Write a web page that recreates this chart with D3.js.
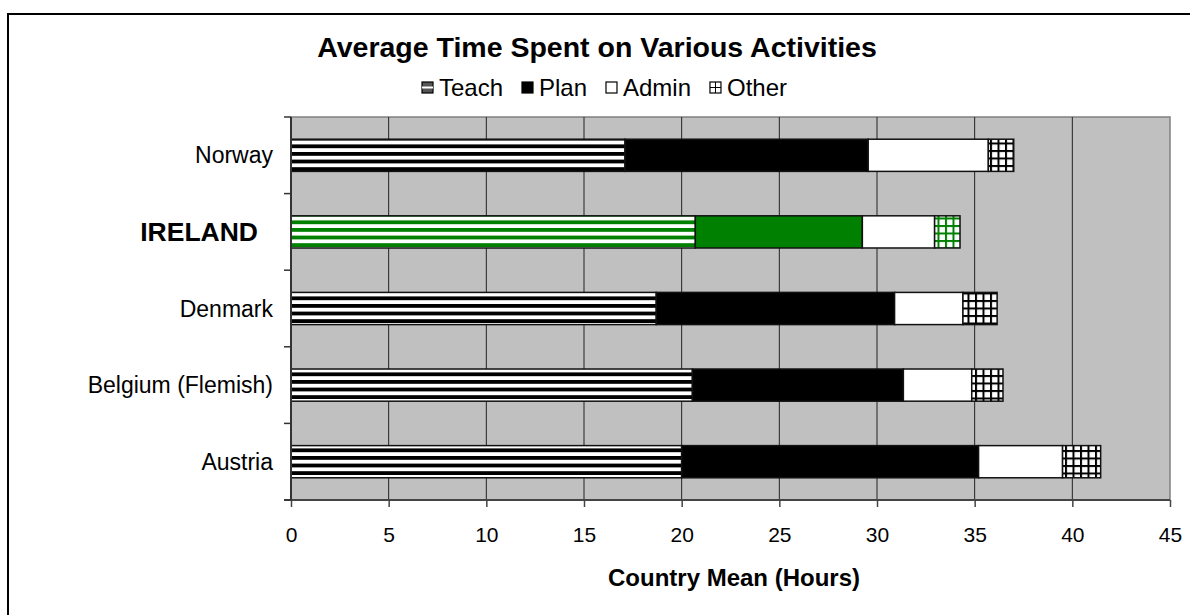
<!DOCTYPE html>
<html>
<head>
<meta charset="utf-8">
<script src="https://cdn.jsdelivr.net/npm/d3@7"></script>
<style>
  body { margin: 0; background: #fff; }
  text { font-family: Arial, "Liberation Sans", sans-serif; }
</style>
</head>
<body>
<div id="chart"></div>
<script>
// chart data
let countries = ['Norway', 'IRELAND', 'Denmark', 'Belgium (Flemish)', 'Austria'];
let activities = ['Teach', 'Plan', 'Admin', 'Other'];
let teach = [17.1, 20.7, 18.7, 20.55, 20.0];
let plan = [12.45, 8.55, 12.2, 10.8, 15.2];
let admin = [6.15, 3.7, 3.5, 3.5, 4.3];
let other = [1.3, 1.3, 1.75, 1.6, 1.95];
let xTicks = [0, 5, 10, 15, 20, 25, 30, 35, 40, 45];
let highlight = 'IRELAND';

// svg definitions
let svgWidth = 1190;
let svgHeight = 615;
let plot = { left: 291, top: 117, right: 1170, bottom: 500 };

let svg = d3.select('#chart').append('svg')
  .attr('width', svgWidth)
  .attr('height', svgHeight);

// table for the stack
let rows = countries.map((c, i) => ({
  country: c, Teach: teach[i], Plan: plan[i], Admin: admin[i], Other: other[i]
}));
let stacked = d3.stack().keys(activities)(rows);

let x = d3.scaleLinear().domain([0, 45]).range([plot.left, plot.right]);
let y = d3.scaleBand().domain(countries).range([plot.top, plot.bottom]).paddingInner(0.58).paddingOuter(0.29);

// hatch patterns, black and green versions
let defs = svg.append('defs');
function makePatterns(id, ink) {
  let stripes = defs.append('pattern')
    .attr('id', 'stripes-' + id)
    .attr('patternUnits', 'userSpaceOnUse')
    .attr('width', 8).attr('height', 7.6);
  stripes.append('rect').attr('width', 8).attr('height', 7.6).attr('fill', '#fff');
  stripes.append('rect').attr('y', 0).attr('width', 8).attr('height', 3.8).attr('fill', ink);

  let grid = defs.append('pattern')
    .attr('id', 'grid-' + id)
    .attr('patternUnits', 'userSpaceOnUse')
    .attr('width', 7.5).attr('height', 7.5);
  grid.append('rect').attr('width', 7.5).attr('height', 7.5).attr('fill', '#fff');
  grid.append('rect').attr('width', 7.5).attr('height', 2).attr('fill', ink);
  grid.append('rect').attr('width', 2).attr('height', 7.5).attr('fill', ink);
}
makePatterns('black', '#000');
makePatterns('green', '#008000');

function fillFor(key, country) {
  let id = country === highlight ? 'green' : 'black';
  let ink = country === highlight ? '#008000' : '#000';
  if (key === 'Teach') return `url(#stripes-${id})`;
  if (key === 'Plan') return ink;
  if (key === 'Admin') return '#fff';
  return `url(#grid-${id})`;
}

// outer frame
svg.append('rect')
  .attr('x', 8).attr('y', 14)
  .attr('width', svgWidth + 10).attr('height', svgHeight + 10)
  .attr('fill', '#fff')
  .attr('stroke', '#000')
  .attr('stroke-width', 2);

// plot background
svg.append('rect')
  .attr('x', plot.left).attr('y', plot.top)
  .attr('width', plot.right - plot.left).attr('height', plot.bottom - plot.top)
  .attr('fill', '#c0c0c0')
  .attr('stroke', '#808080')
  .attr('stroke-width', 1.5);

// gridlines
svg.append('g')
  .selectAll('line')
  .data(xTicks.slice(1, -1))
  .enter()
  .append('line')
  .attr('x1', d => x(d)).attr('x2', d => x(d))
  .attr('y1', plot.top).attr('y2', plot.bottom)
  .attr('stroke', '#222')
  .attr('stroke-width', 1);

// bars
let series = svg.append('g')
  .selectAll('g')
  .data(stacked)
  .enter()
  .append('g');

series.selectAll('rect')
  .data(s => s.map(d => ({ key: s.key, d: d })))
  .enter()
  .append('rect')
  .attr('x', e => x(e.d[0]))
  .attr('y', e => y(e.d.data.country))
  .attr('width', e => x(e.d[1]) - x(e.d[0]))
  .attr('height', y.bandwidth())
  .attr('fill', e => fillFor(e.key, e.d.data.country))
  .attr('stroke', '#111')
  .attr('stroke-width', 1.5);

// x axis
let xAxis = svg.append('g')
  .attr('transform', `translate(0, ${plot.bottom})`)
  .call(d3.axisBottom(x).tickValues(xTicks).tickSize(7).tickPadding(20));
xAxis.select('.domain').attr('stroke', '#444').attr('stroke-width', 2)
  .attr('d', `M${plot.left - 7},0H${plot.right}`);
xAxis.selectAll('.tick line').attr('stroke', '#444').attr('stroke-width', 1.5);
xAxis.selectAll('.tick text')
  .attr('font-size', '21px')
  .attr('font-family', 'Arial, "Liberation Sans", sans-serif')
  .attr('fill', '#000');

// y axis: ticks sit at band boundaries
let yBounds = d3.range(countries.length + 1).map(i => plot.top + i * (plot.bottom - plot.top) / countries.length);
let yAxis = svg.append('g');
yAxis.append('line')
  .attr('x1', plot.left).attr('x2', plot.left)
  .attr('y1', plot.top).attr('y2', plot.bottom)
  .attr('stroke', '#333').attr('stroke-width', 2);
yAxis.selectAll('.ytick')
  .data(yBounds)
  .enter()
  .append('line')
  .attr('x1', plot.left - 7).attr('x2', plot.left)
  .attr('y1', d => d).attr('y2', d => d)
  .attr('stroke', '#333').attr('stroke-width', 1.5);

yAxis.selectAll('.ylabel')
  .data(countries)
  .enter()
  .append('text')
  .attr('x', d => d === highlight ? 258 : 273)
  .attr('y', d => y(d) + y.bandwidth() / 2)
  .attr('dy', '0.35em')
  .attr('text-anchor', 'end')
  .attr('font-size', d => d === highlight ? '26.5px' : '23px')
  .attr('font-weight', d => d === highlight ? 'bold' : 'normal')
  .text(d => d);

// titles
svg.append('text')
  .attr('x', 597).attr('y', 57)
  .attr('text-anchor', 'middle')
  .attr('font-size', '28.5px')
  .attr('font-weight', 'bold')
  .text('Average Time Spent on Various Activities');

svg.append('text')
  .attr('x', 734).attr('y', 586)
  .attr('text-anchor', 'middle')
  .attr('font-size', '24px')
  .attr('font-weight', 'bold')
  .text('Country Mean (Hours)');

// legend, laid out in a row from 422 to 787
let legend = svg.append('g').attr('transform', 'translate(0, 82)');
let legendG = legend.selectAll('g')
  .data(activities)
  .enter()
  .append('g');
legendG.append('rect')
  .attr('width', 11).attr('height', 11)
  .attr('fill', d => d === 'Teach' ? '#555' : fillFor(d, ''))
  .attr('stroke', '#000').attr('stroke-width', 1.2);
legendG.filter(d => d === 'Teach').append('line')
  .attr('x1', 0).attr('x2', 11).attr('y1', 5.5).attr('y2', 5.5)
  .attr('stroke', '#fff').attr('stroke-width', 2);
legendG.filter(d => d === 'Other').each(function() {
  let g = d3.select(this);
  g.append('line').attr('x1', 5.5).attr('x2', 5.5).attr('y1', 0).attr('y2', 11).attr('stroke', '#000');
  g.append('line').attr('x1', 0).attr('x2', 11).attr('y1', 5.5).attr('y2', 5.5).attr('stroke', '#000');
});
legendG.filter(d => d === 'Other').select('rect').attr('fill', '#fff');
let legendText = legendG.append('text')
  .attr('x', 17).attr('y', 6)
  .attr('dy', '0.35em')
  .attr('font-size', '24px')
  .text(d => d);

let widths = legendText.nodes().map(n => n.getComputedTextLength());
let itemW = widths.map(w => 17 + w);
let gap = (787 - 422 - d3.sum(itemW)) / (activities.length - 1);
let pos = 422;
legendG.each(function(d, i) {
  d3.select(this).attr('transform', `translate(${pos}, 0)`);
  pos += itemW[i] + gap;
});
</script>
</body>
</html>
